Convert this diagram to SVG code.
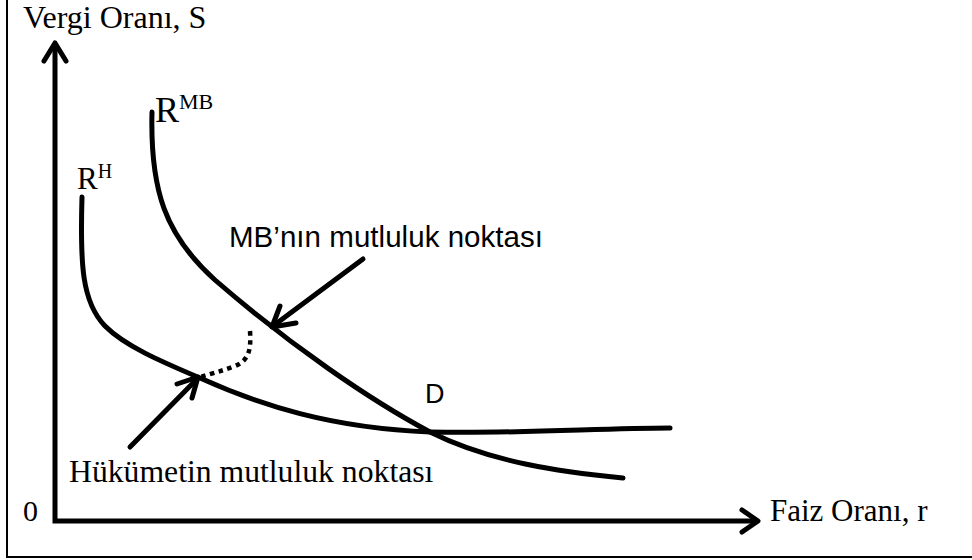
<svg xmlns="http://www.w3.org/2000/svg" width="972" height="560" viewBox="0 0 972 560">
<style>
.serif{font-family:"Liberation Serif","Times New Roman",serif;fill:#000}
.sans{font-family:"Liberation Sans",Arial,sans-serif;fill:#000}
.ln{fill:none;stroke:#000;stroke-width:5;stroke-linecap:round;stroke-linejoin:round}
.ax{fill:none;stroke:#000;stroke-width:5;stroke-linejoin:miter}
</style>
<rect x="0" y="0" width="972" height="560" fill="#fff"/>
<g id="frame" fill="none" stroke="#000" stroke-width="2">
<path d="M7,0 V557 H972"/>
</g>
<g id="axes">
<path class="ax" d="M55,46 V521 H755"/>
<polyline class="ln" points="44,61 55,43 66,61"/>
<polyline class="ln" points="742,510 758,521 742,532"/>
<text class="serif" x="23" y="28" font-size="32">Vergi Oranı, S</text>
<text class="serif" x="23" y="521" font-size="30">0</text>
<text class="serif" x="770" y="521" font-size="31">Faiz Oranı, r</text>
</g>
<g id="curve-MB">
<path class="ln" d="M152,112 C150,190 165,235 215,280 C290,345 370,400 430,432 C490,462 560,472 623,478"/>
<text class="serif" x="155" y="122" font-size="36">R<tspan font-size="22" dy="-13">MB</tspan></text>
</g>
<g id="curve-H">
<path class="ln" d="M82,197 C80,265 82,302 105,326 C125,346 160,361 200,378 C260,405 330,428 430,432 C520,434 600,428 670,428"/>
<text class="serif" x="77" y="189" font-size="31">R<tspan font-size="20" dy="-11">H</tspan></text>
</g>
<g id="label-D">
<text class="sans" x="425" y="403" font-size="27">D</text>
</g>
<g id="connectors">
<path d="M250,331 C251,348 250,360 235,366 C222,371 210,374 200,377" fill="none" stroke="#000" stroke-width="4.5" stroke-dasharray="4.5 4.5"/>
<line class="ln" x1="363" y1="259" x2="273" y2="326"/>
<polyline class="ln" points="280,306 272,327 296,323"/>
<line class="ln" x1="130" y1="447" x2="197" y2="379"/>
<polyline class="ln" points="177,384 198,377 192,398"/>
</g>
<g id="label-MB">
<text class="sans" x="229" y="247" font-size="29.5" textLength="314">MB’nın mutluluk noktası</text>
</g>
<g id="label-H">
<text class="serif" x="69" y="482" font-size="31.7">Hükümetin mutluluk noktası</text>
</g>
</svg>
